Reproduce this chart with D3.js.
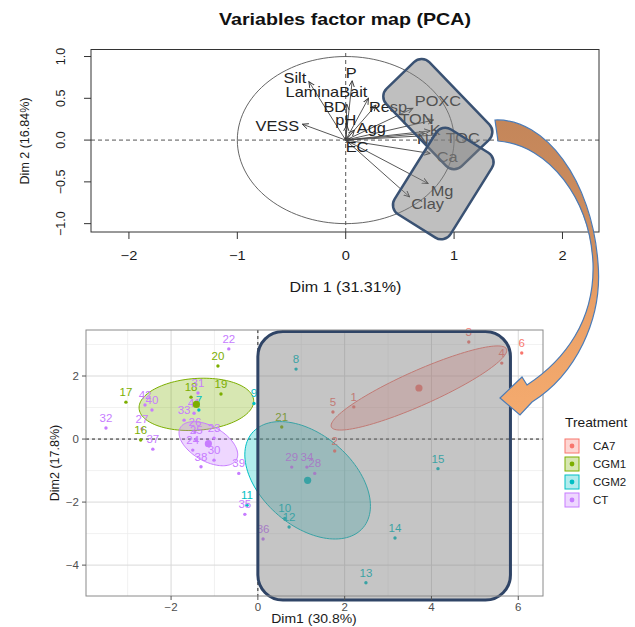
<!DOCTYPE html>
<html>
<head>
<meta charset="utf-8">
<script src="https://cdn.jsdelivr.net/npm/d3@7"></script>
<style>
body { margin: 0; background: #fff; }
svg { font-family: "Liberation Sans", Arial, sans-serif; }
</style>
</head>
<body>
<svg id="fig" width="635" height="627"></svg>
<script>
// ---- top panel : variables factor map ----
var varNames = ["Silt", "P", "LaminaBait", "BD", "pH", "Agg", "EC", "Resp", "POXC",
                "TON", "K", "N", "TOC", "Ca", "Mg", "Clay", "VESS"];
var varDim1 = [-0.34, 0.06, 0.21, 0.01, 0.01, 0.08, 0.04, 0.28, 0.62,
               0.81, 0.78, 0.73, 0.84, 0.78, 0.76, 0.59, -0.40];
var varDim2 = [0.70, 0.71, 0.50, 0.43, 0.18, 0.12, 0.02, 0.42, 0.38,
               0.24, 0.11, 0.08, 0.06, -0.16, -0.52, -0.68, 0.19];
var topXTicks = [-2, -1, 0, 1, 2];
var topYTicks = [-1, -0.5, 0, 0.5, 1];

// ---- bottom panel : individuals ----
var indLabels = d3.range(1, 43).map(String);
var indDim1 = [2.21, 1.77, 4.86, 5.62, 1.73, 6.08,
               -1.36, 0.88, -0.09, 0.62, -0.25, 0.72, 2.49, 3.16, 4.15,
               -2.70, -3.04, -1.54, -0.85, -0.92, 0.55,
               -0.67, -1.01, -1.50, -1.42, -1.45, -2.67, 1.31, 0.78, -1.01, -1.38, -3.50,
               -1.70, 1.13, -0.30, 0.12, -2.42, -1.31, -0.44, -2.44, -1.47, -2.60];
var indDim2 = [1.02, -0.38, 3.08, 2.41, 0.86, 2.73,
               0.92, 2.22, 1.13, -2.52, -2.10, -2.79, -4.56, -3.14, -0.94,
               -0.03, 1.17, 1.33, 1.43, 2.32, 0.38,
               2.86, 0.03, -0.35, -0.02, 0.22, 0.32, -1.09, -0.89, -0.67, 1.46, 0.35,
               0.60, -0.89, -2.39, -3.17, -0.32, -0.88, -1.09, 0.92, 0.82, 1.08];
var indGroup = ["CA7", "CA7", "CA7", "CA7", "CA7", "CA7",
                "CGM2", "CGM2", "CGM2", "CGM2", "CGM2", "CGM2", "CGM2", "CGM2", "CGM2",
                "CGM1", "CGM1", "CGM1", "CGM1", "CGM1", "CGM1",
                "CT", "CT", "CT", "CT", "CT", "CT", "CT", "CT", "CT", "CT", "CT",
                "CT", "CT", "CT", "CT", "CT", "CT", "CT", "CT", "CT", "CT"];
var groups = ["CA7", "CGM1", "CGM2", "CT"];
var groupColors = ["#F8766D", "#7CAE00", "#00BFC4", "#C77CFF"];
var botXTicks = [-2, 0, 2, 4, 6];
var botYTicks = [-4, -2, 0, 2];
var botMinorX = [-3, -1, 1, 3, 5];
var botMinorY = [-5, -3, -1, 1, 3];

// label nudges (px) for the variable names, like the repelled labels
var labelNudge = {Silt: [-14, -4], P: [-1, -8], LaminaBait: [-42, -6], BD: [-12, 3], pH: [-1, -5],
  Agg: [17, -2], EC: [7, 9], Resp: [12, 2], POXC: [25, -7], TON: [-17, -1], K: [5, -1],
  N: [-2, 6], TOC: [26, 3], Ca: [17, 3], Mg: [14, 7], Clay: [18, 7], VESS: [-25, 2]};

var svg = d3.select("#fig");
var defs = svg.append("defs");

// stretched text helper (the figure is a little wider than tall)
function stext(g, x, y, txt, size, o) {
  o = o || {};
  return g.append("text")
    .attr("transform", "translate(" + x + "," + y + ")" + (o.rot ? " rotate(" + o.rot + ")" : "") +
          " scale(" + (o.sx || 1) + ",1)")
    .attr("text-anchor", o.anchor || "middle")
    .attr("dominant-baseline", "central")
    .attr("font-size", size)
    .attr("font-weight", o.bold ? "bold" : null)
    .attr("fill", o.fill || "#1a1a1a")
    .text(txt);
}

// ================= TOP =================
var xT = d3.scaleLinear().domain([-2.35, 2.337]).range([91, 599]);
var yT = d3.scaleLinear().domain([-1.10, 1.084]).range([232, 49.5]);
var topG = svg.append("g");

stext(topG, 345, 19.5, "Variables factor map (PCA)", 16.5, {bold: true, sx: 1.19, fill: "#111"});

// dashed axes
topG.append("line").attr("x1", xT.range()[0]).attr("x2", xT.range()[1])
  .attr("y1", yT(0)).attr("y2", yT(0))
  .attr("stroke", "#555").attr("stroke-dasharray", "4,3");
topG.append("line").attr("x1", xT(0)).attr("x2", xT(0))
  .attr("y1", yT.range()[0]).attr("y2", yT.range()[1])
  .attr("stroke", "#555").attr("stroke-dasharray", "4,3");

// correlation circle
var circ = d3.range(0, 361, 3).map(a => [Math.cos(a * Math.PI / 180), Math.sin(a * Math.PI / 180)]);
topG.append("path")
  .attr("d", d3.line().x(d => xT(d[0])).y(d => yT(d[1]))(circ))
  .attr("fill", "none").attr("stroke", "#555").attr("stroke-width", 0.9);

defs.append("marker").attr("id", "ah")
  .attr("markerUnits", "userSpaceOnUse")
  .attr("markerWidth", 8).attr("markerHeight", 8)
  .attr("refX", 6).attr("refY", 3).attr("orient", "auto")
  .append("path").attr("d", "M0,0.3 L6,3 L0,5.7")
  .attr("fill", "none").attr("stroke", "#333").attr("stroke-width", 0.9);

varNames.forEach(function(nm, i) {
  topG.append("line")
    .attr("x1", xT(0)).attr("y1", yT(0))
    .attr("x2", xT(varDim1[i])).attr("y2", yT(varDim2[i]))
    .attr("stroke", "#444").attr("stroke-width", 0.9)
    .attr("marker-end", "url(#ah)");
});
varNames.forEach(function(nm, i) {
  var n = labelNudge[nm];
  stext(topG, xT(varDim1[i]) + n[0], yT(varDim2[i]) + n[1], nm, 14, {sx: 1.17, fill: "#222"});
});

// frame + axes
topG.append("rect").attr("x", 91).attr("y", 49.5).attr("width", 508).attr("height", 182.5)
  .attr("fill", "none").attr("stroke", "#333").attr("stroke-width", 1);
topXTicks.forEach(function(t) {
  topG.append("line").attr("x1", xT(t)).attr("x2", xT(t)).attr("y1", 232).attr("y2", 239)
    .attr("stroke", "#333");
  stext(topG, xT(t), 256, d3.format("")(t), 12.5, {sx: 1.17});
});
topYTicks.forEach(function(t) {
  topG.append("line").attr("x1", 84).attr("x2", 91).attr("y1", yT(t)).attr("y2", yT(t))
    .attr("stroke", "#333");
  stext(topG, 61, yT(t), d3.format(".1f")(t), 12.5, {rot: -90});
});
stext(topG, 345.5, 287, "Dim 1 (31.31%)", 14, {sx: 1.15});
stext(topG, 25, 141, "Dim 2 (16.84%)", 12.5, {rot: -90});

// highlight boxes (data coords for their centres)
var hiBoxes = [{cx: 0.85, cy: 0.31, w: 108, h: 60, a: 46},
               {cx: 0.90, cy: -0.52, w: 66, h: 100, a: 32}];
hiBoxes.forEach(function(b) {
  topG.append("rect")
    .attr("x", -b.w / 2).attr("y", -b.h / 2).attr("width", b.w).attr("height", b.h)
    .attr("rx", 11)
    .attr("transform", "translate(" + xT(b.cx) + "," + yT(b.cy) + ") rotate(" + b.a + ")")
    .attr("fill", "#7f7f7f").attr("fill-opacity", 0.5)
    .attr("stroke", "#3a5273").attr("stroke-width", 2.5);
});

// ================= BOTTOM =================
var xB = d3.scaleLinear().domain([-3.96, 6.57]).range([86, 543]);
var yB = d3.scaleLinear().domain([-4.98, 3.46]).range([596, 330]);
var botG = svg.append("g");

botMinorX.forEach(t => botG.append("line").attr("x1", xB(t)).attr("x2", xB(t))
  .attr("y1", 330).attr("y2", 596).attr("stroke", "#ebebeb").attr("stroke-width", 0.7));
botMinorY.filter(t => yB(t) > 330 && yB(t) < 596).forEach(t => botG.append("line")
  .attr("x1", 86).attr("x2", 543).attr("y1", yB(t)).attr("y2", yB(t))
  .attr("stroke", "#ebebeb").attr("stroke-width", 0.7));
botXTicks.forEach(t => botG.append("line").attr("x1", xB(t)).attr("x2", xB(t))
  .attr("y1", 330).attr("y2", 596).attr("stroke", "#d9d9d9").attr("stroke-width", 1));
botYTicks.forEach(t => botG.append("line").attr("x1", 86).attr("x2", 543)
  .attr("y1", yB(t)).attr("y2", yB(t)).attr("stroke", "#d9d9d9").attr("stroke-width", 1));

botG.append("line").attr("x1", 86).attr("x2", 543).attr("y1", yB(0)).attr("y2", yB(0))
  .attr("stroke", "#222").attr("stroke-dasharray", "3,3");
botG.append("line").attr("x1", xB(0)).attr("x2", xB(0)).attr("y1", 330).attr("y2", 596)
  .attr("stroke", "#222").attr("stroke-dasharray", "3,3");

// confidence ellipses of the group means
function confEllipse(px, py) {
  var n = px.length, mx = d3.mean(px), my = d3.mean(py);
  var sxx = d3.sum(px, v => (v - mx) * (v - mx)) / (n - 1);
  var syy = d3.sum(py, v => (v - my) * (v - my)) / (n - 1);
  var sxy = d3.sum(px.map((v, i) => (v - mx) * (py[i] - my))) / (n - 1);
  var tr = sxx + syy, det = sxx * syy - sxy * sxy;
  var disc = Math.sqrt(tr * tr / 4 - det);
  var l1 = tr / 2 + disc, l2 = Math.max(tr / 2 - disc, 0);
  var th = 0.5 * Math.atan2(2 * sxy, sxx - syy);
  var k = Math.sqrt(5.991 / n);
  var a = k * Math.sqrt(l1), b = k * Math.sqrt(l2);
  return {mx: mx, my: my, pts: d3.range(0, 2 * Math.PI, Math.PI / 60).map(t => [
    mx + a * Math.cos(t) * Math.cos(th) - b * Math.sin(t) * Math.sin(th),
    my + a * Math.cos(t) * Math.sin(th) + b * Math.sin(t) * Math.cos(th)])};
}

var ell = d3.line().x(d => xB(d[0])).y(d => yB(d[1])).curve(d3.curveLinearClosed);
var centres = [];
groups.forEach(function(g, gi) {
  var idx = d3.range(indLabels.length).filter(i => indGroup[i] === g);
  var e = confEllipse(idx.map(i => indDim1[i]), idx.map(i => indDim2[i]));
  centres.push(e);
  botG.append("path").attr("d", ell(e.pts))
    .attr("fill", groupColors[gi]).attr("fill-opacity", 0.3)
    .attr("stroke", groupColors[gi]).attr("stroke-width", 1);
});

var color = d3.scaleOrdinal().domain(groups).range(groupColors);
botG.append("g").selectAll("circle").data(indLabels).enter().append("circle")
  .attr("cx", (d, i) => xB(indDim1[i])).attr("cy", (d, i) => yB(indDim2[i]))
  .attr("r", 1.7).attr("fill", (d, i) => color(indGroup[i]));
botG.append("g").selectAll("text").data(indLabels).enter().append("text")
  .attr("x", (d, i) => xB(indDim1[i])).attr("y", (d, i) => yB(indDim2[i]) - 10)
  .attr("text-anchor", "middle").attr("dominant-baseline", "central")
  .attr("font-size", 11.5).attr("fill", (d, i) => color(indGroup[i]))
  .text(d => d);
centres.forEach(function(e, gi) {
  botG.append("circle").attr("cx", xB(e.mx)).attr("cy", yB(e.my)).attr("r", 3.6)
    .attr("fill", groupColors[gi]);
});

// highlight rectangle over the right half
var hx0 = 0, hx1 = 5.82, hy0 = 3.41, hy1 = -5.11;
botG.append("rect")
  .attr("x", xB(hx0)).attr("y", yB(hy0))
  .attr("width", xB(hx1) - xB(hx0)).attr("height", yB(hy1) - yB(hy0))
  .attr("rx", 25)
  .attr("fill", "#7f7f7f").attr("fill-opacity", 0.45)
  .attr("stroke", "#2f4466").attr("stroke-width", 3);

// panel border + axes
botG.append("rect").attr("x", 86).attr("y", 330).attr("width", 457).attr("height", 266)
  .attr("fill", "none").attr("stroke", "#8a8a8a").attr("stroke-width", 1);
botXTicks.forEach(function(t) {
  botG.append("line").attr("x1", xB(t)).attr("x2", xB(t)).attr("y1", 596).attr("y2", 600)
    .attr("stroke", "#555");
  stext(botG, xB(t), 607, d3.format("")(t), 10, {sx: 1.15, fill: "#4d4d4d"});
});
botYTicks.forEach(function(t) {
  botG.append("line").attr("x1", 82).attr("x2", 86).attr("y1", yB(t)).attr("y2", yB(t))
    .attr("stroke", "#555");
  stext(botG, 79, yB(t), d3.format("")(t), 10, {sx: 1.15, fill: "#4d4d4d", anchor: "end"});
});
stext(botG, 314, 619, "Dim1 (30.8%)", 12.5, {sx: 1.12});
stext(botG, 55, 463, "Dim2 (17.8%)", 12.5, {rot: -90});

// legend
var leg = svg.append("g");
stext(leg, 565, 423, "Treatment", 12, {sx: 1.15, anchor: "start"});
groups.forEach(function(g, gi) {
  var cy = 446 + gi * 18;
  leg.append("rect").attr("x", 565).attr("y", cy - 7).attr("width", 14).attr("height", 14)
    .attr("fill", groupColors[gi]).attr("fill-opacity", 0.3)
    .attr("stroke", groupColors[gi]).attr("stroke-width", 1);
  leg.append("circle").attr("cx", 572).attr("cy", cy).attr("r", 2.4).attr("fill", groupColors[gi]);
  stext(leg, 593, cy, g, 10, {sx: 1.15, anchor: "start"});
});

// ================= connector arrow =================
var grad = defs.append("linearGradient").attr("id", "arrowGrad")
  .attr("gradientUnits", "userSpaceOnUse")
  .attr("x1", 0).attr("y1", 120).attr("x2", 0).attr("y2", 410);
grad.append("stop").attr("offset", 0).attr("stop-color", "#c4865a");
grad.append("stop").attr("offset", 0.45).attr("stop-color", "#d08f5f");
grad.append("stop").attr("offset", 0.62).attr("stop-color", "#eaa066");
grad.append("stop").attr("offset", 1).attr("stop-color", "#f4aa6e");

svg.append("path")
  .attr("d", "M495,120 C545,118 592,180 598,263 C603,320 575,375 532,402 " +
             "L520,415 L500,398 L522,377 L527,385 " +
             "C565,360 595,320 593,263 C590,200 550,145 498,141 Z")
  .attr("fill", "url(#arrowGrad)")
  .attr("stroke", "#4a7bb7").attr("stroke-width", 1.2);
</script>
</body>
</html>
